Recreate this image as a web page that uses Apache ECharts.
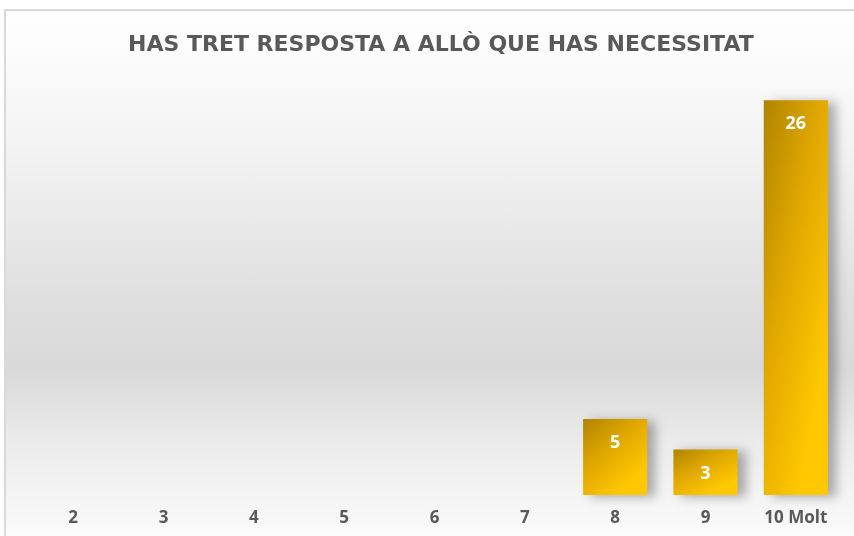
<!DOCTYPE html>
<html>
<head>
<meta charset="utf-8">
<script src="https://cdn.jsdelivr.net/npm/echarts@6/dist/echarts.min.js"></script>
<style>
html,body{margin:0;padding:0;width:854px;height:536px;overflow:hidden;background:#fff;}
#frame{position:absolute;left:4px;top:9px;width:860px;height:540px;border-left:2px solid #d9d9d9;border-top:2px solid #d9d9d9;
background:linear-gradient(to bottom,#ffffff 0%,#f3f3f3 25%,#dedede 55%,#d9d9d9 66%,#ebebeb 80%,#fdfdfd 100%);}
#chart{position:absolute;left:0;top:0;width:854px;height:536px;}
</style>
</head>
<body>
<div id="frame"></div>
<div id="chart"></div>
<script>
const categories = ['2', '3', '4', '5', '6', '7', '8', '9', '10 Molt'];
const values = [0, 0, 0, 0, 0, 0, 5, 3, 26];
const titleText = 'HAS TRET RESPOSTA A ALLÒ QUE HAS NECESSITAT';

const chart = echarts.init(document.getElementById('chart'), null, {renderer: 'canvas'});
const gridCfg = {left: 28, right: 13, top: 70, bottom: 41};
const barRatio = 0.71;
chart.setOption({
  backgroundColor: 'transparent',
  animation: false,
  title: {
    text: titleText,
    left: 123,
    top: 29,
    textStyle: {fontFamily: 'DejaVu Sans', fontWeight: 'bold', fontSize: 22, color: '#595959'}
  },
  grid: gridCfg,
  xAxis: {
    type: 'category',
    data: categories,
    axisLine: {show: false},
    axisTick: {show: false},
    axisLabel: {fontFamily: 'Open Sans', fontWeight: 'bold', fontSize: 17, color: '#595959', margin: 15}
  },
  yAxis: {
    type: 'value',
    min: 0,
    max: 28,
    show: false,
    splitLine: {show: false}
  },
  series: [{
    type: 'bar',
    data: values,
    barWidth: (barRatio * 100) + '%',
    itemStyle: {
      color: '#e0a800',
      shadowColor: 'rgba(0,0,0,0.3)',
      shadowBlur: 10,
      shadowOffsetX: 8,
      shadowOffsetY: 2
    },
    label: {
      show: true,
      position: 'insideTop',
      distance: 15,
      formatter: p => (p.value ? String(p.value) : ''),
      fontFamily: 'Open Sans',
      fontWeight: 'bold',
      fontSize: 18,
      color: '#ffffff'
    }
  }]
});

// gradient t = a*x' + b*y' (relative coords within each bar)
const pxPerUnit = chart.convertToPixel({yAxisIndex: 0}, 0) - chart.convertToPixel({yAxisIndex: 0}, 1);
const bandW = (chart.getWidth() - gridCfg.left - gridCfg.right) / categories.length;
const barW = bandW * barRatio;
const ga = 0.55, gb = 0.7;
chart.setOption({
  series: [{
    itemStyle: {
      color: function (p) {
        const w = barW;
        const h = Math.max(1, p.value * pxPerUnit);
        const s = 1 / (ga * ga / (w * w) + gb * gb / (h * h));
        return new echarts.graphic.LinearGradient(0, 0, ga * s / (w * w), gb * s / (h * h), [
          {offset: 0, color: '#b08400'},
          {offset: 0.5, color: '#e0a800'},
          {offset: 1, color: '#ffc800'}
        ]);
      }
    }
  }]
});
</script>
</body>
</html>
